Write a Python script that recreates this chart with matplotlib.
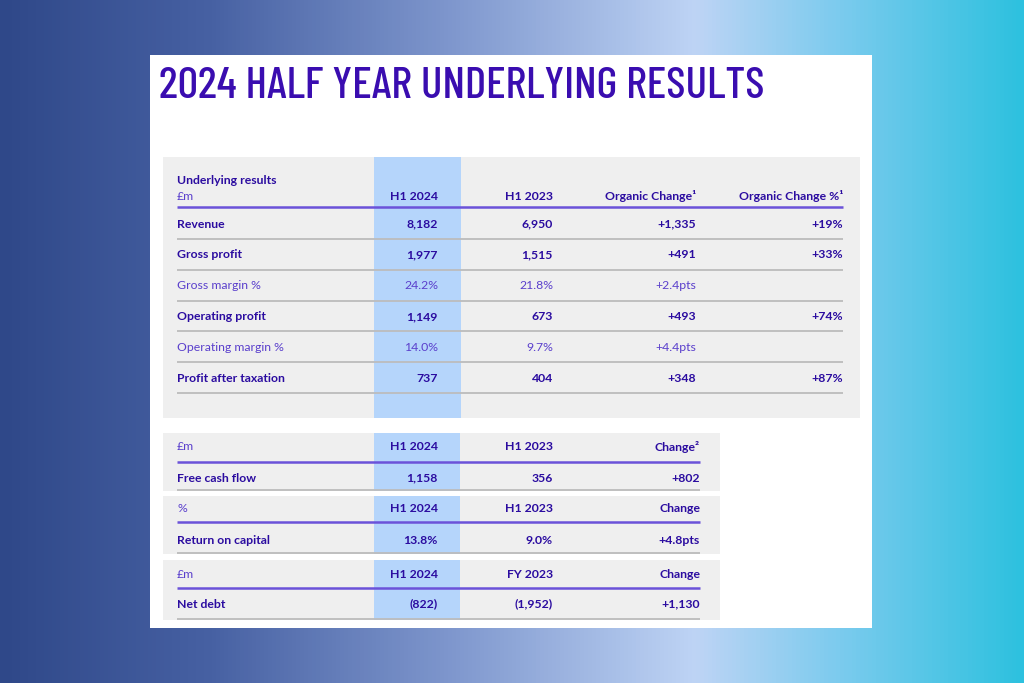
import matplotlib
matplotlib.use("Agg")
import matplotlib.pyplot as plt
import numpy as np
from matplotlib.colors import LinearSegmentedColormap
from matplotlib.patches import Rectangle

# ---------------- data ----------------
title = "2024 HALF YEAR UNDERLYING RESULTS"

main_header_top = "Underlying results"
main_header = ["£m", "H1 2024", "H1 2023", "Organic Change¹", "Organic Change %¹"]
main_rows = ["Revenue", "Gross profit", "Gross margin %", "Operating profit",
             "Operating margin %", "Profit after taxation"]
main_bold = [True, True, False, True, False, True]
h1_2024 = ["8,182", "1,977", "24.2%", "1,149", "14.0%", "737"]
h1_2023 = ["6,950", "1,515", "21.8%", "673", "9.7%", "404"]
organic_change = ["+1,335", "+491", "+2.4pts", "+493", "+4.4pts", "+348"]
organic_change_pct = ["+19%", "+33%", "", "+74%", "", "+87%"]

sub_headers = [["£m", "H1 2024", "H1 2023", "Change²"],
               ["%", "H1 2024", "H1 2023", "Change"],
               ["£m", "H1 2024", "FY 2023", "Change"]]
sub_rows = [["Free cash flow", "1,158", "356", "+802"],
            ["Return on capital", "13.8%", "9.0%", "+4.8pts"],
            ["Net debt", "(822)", "(1,952)", "+1,130"]]

# ---------------- style ----------------
W, H = 1024, 683
DARK = "#2b0ca0"
LIGHT = "#5a3fcc"
TITLE_C = "#3a0db0"
GRAY_BG = "#efefef"
BLUE_COL = "#b5d5fb"
PURPLE_LINE = "#6b52d9"
GRAY_LINE = "#bcbcbc"
FS = 8.8
BODY = ["Lato", "DejaVu Sans"]
plt.rcParams["font.family"] = BODY

fig = plt.figure(figsize=(W / 100, H / 100), dpi=100)
ax = fig.add_axes([0, 0, 1, 1])
ax.set_xlim(0, W)
ax.set_ylim(H, 0)
ax.axis("off")

# background gradient
cmap = LinearSegmentedColormap.from_list(
    "bg", [(0.0, "#2f4889"), (0.2, "#4660a2"), (0.45, "#8199cf"),
           (0.68, "#bed4f5"), (0.82, "#7ccbee"), (1.0, "#2dc1df")])
grad = np.linspace(0, 1, 512)[None, :]
ax.imshow(grad, cmap=cmap, aspect="auto", extent=(0, W, H, 0), zorder=0)

# white panel
ax.add_patch(Rectangle((150, 55), 722, 573, facecolor="white", edgecolor="none", zorder=1))

ax.text(159, 98, title, fontsize=32.5, color=TITLE_C, va="baseline", ha="left",
        family=["Barlow Condensed", "DejaVu Sans"], fontweight="medium", zorder=3)

# ---- main table ----
ax.add_patch(Rectangle((163, 157), 697, 261, facecolor=GRAY_BG, edgecolor="none", zorder=1))
ax.add_patch(Rectangle((374, 157), 87, 261, facecolor=BLUE_COL, edgecolor="none", zorder=2))

x_label = 177
col_right = [438, 553, 696, 843]
ax.text(x_label, 181, main_header_top, fontsize=FS, color=DARK, fontweight="bold",
        va="center", ha="left", zorder=3)
ax.text(x_label, 196, main_header[0], fontsize=FS, color=LIGHT, va="center", ha="left", zorder=3)
for xr, h in zip(col_right, main_header[1:]):
    ax.text(xr, 196, h, fontsize=FS, color=DARK, fontweight="bold", va="center", ha="right", zorder=3)
ax.plot([177, 843], [207, 207], color=PURPLE_LINE, lw=1.8, zorder=3, solid_capstyle="butt")

row_y0, row_dy = 224, 30.8
for i, name in enumerate(main_rows):
    y = row_y0 + i * row_dy
    c = DARK if main_bold[i] else LIGHT
    wt = "bold" if main_bold[i] else "normal"
    ax.text(x_label, y, name, fontsize=FS, color=c, fontweight=wt, va="center", ha="left", zorder=3)
    vals = [h1_2024[i], h1_2023[i], organic_change[i], organic_change_pct[i]]
    for xr, v in zip(col_right, vals):
        ax.text(xr, y, v, fontsize=FS, color=c, fontweight=wt, va="center", ha="right", zorder=3)
    ly = y + 15
    ax.plot([177, 843], [ly, ly], color=GRAY_LINE, lw=1.3, zorder=3, solid_capstyle="butt")

# ---- sub tables ----
sub_tops = [433, 496, 560]
sub_hgts = [58, 58, 60]
sub_hdr_y = [447, 508, 574]
sub_line_y = [462, 522, 588]
sub_row_y = [478, 540, 604]
sub_right = [438, 553, 700]
for k in range(3):
    ax.add_patch(Rectangle((163, sub_tops[k]), 557, sub_hgts[k], facecolor=GRAY_BG,
                           edgecolor="none", zorder=1))
    ax.add_patch(Rectangle((374, sub_tops[k]), 86, sub_hgts[k], facecolor=BLUE_COL,
                           edgecolor="none", zorder=2))
    hdr = sub_headers[k]
    ax.text(x_label, sub_hdr_y[k], hdr[0], fontsize=FS, color=LIGHT, va="center", ha="left", zorder=3)
    for xr, h in zip(sub_right, hdr[1:]):
        ax.text(xr, sub_hdr_y[k], h, fontsize=FS, color=DARK, fontweight="bold",
                va="center", ha="right", zorder=3)
    ax.plot([177, 700], [sub_line_y[k]] * 2, color=PURPLE_LINE, lw=1.8, zorder=3, solid_capstyle="butt")
    row = sub_rows[k]
    ax.text(x_label, sub_row_y[k], row[0], fontsize=FS, color=DARK, fontweight="bold",
            va="center", ha="left", zorder=3)
    for xr, v in zip(sub_right, row[1:]):
        ax.text(xr, sub_row_y[k], v, fontsize=FS, color=DARK, fontweight="bold",
                va="center", ha="right", zorder=3)
    ly = sub_tops[k] + sub_hgts[k] - 1
    ax.plot([177, 700], [ly, ly], color=GRAY_LINE, lw=1.3, zorder=3, solid_capstyle="butt")

fig.savefig("out.png", dpi=100)
